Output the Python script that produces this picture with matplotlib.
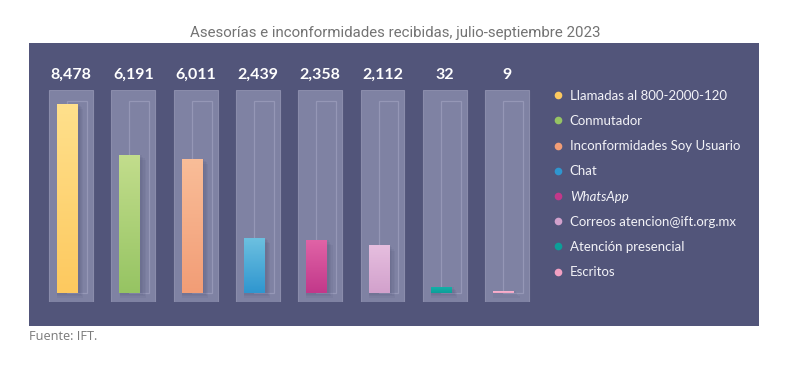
import numpy as np
import matplotlib.pyplot as plt
from matplotlib.colors import LinearSegmentedColormap, to_rgb
from matplotlib.lines import Line2D

categories = ['Llamadas al 800-2000-120', 'Conmutador', 'Inconformidades Soy Usuario',
              'Chat', 'WhatsApp', 'Correos atencion@ift.org.mx', 'Atención presencial', 'Escritos']
values = [8478, 6191, 6011, 2439, 2358, 2112, 32, 9]
value_labels = ['8,478', '6,191', '6,011', '2,439', '2,358', '2,112', '32', '9']
colors_top = ['#ffe08c', '#c2dd8c', '#f9bd98', '#6cc0e0', '#e063a6', '#e6bedf', '#14b0a8', '#f7b6d0']
colors_bot = ['#fdc95f', '#96c463', '#f29d76', '#2f96cf', '#c2388a', '#d2a1cc', '#0d9e98', '#f2a0c2']

panel = '#52557a'

fig = plt.figure(figsize=(7.95, 3.66), dpi=100)
fig.patch.set_facecolor('white')

# dark panel
bg = fig.add_axes([29/795, (366-326)/366, 730/795, 283/366])
bg.set_facecolor(panel)
bg.set_xticks([])
bg.set_yticks([])
for s in bg.spines.values():
    s.set_visible(False)

step = 62.3
ax = fig.add_axes([(71 - 0.5*step)/795, (366-302)/366, 8*step/795, 212/366])
ax.set_facecolor('none')
ymin, ymax = -404, 9107
ax.axis('off')

x = np.arange(len(values))
# small values are stretched a bit so they stay visible, like in the original
shown = [v if v > 500 else v * 8 for v in values]

# light boxes
ax.bar(x, ymax - ymin, bottom=ymin, width=0.706, color='#7f82a3',
       edgecolor='#8a8cab', linewidth=0.8, zorder=1)
# thin outlines
ax.bar(x + 0.096, 8613, bottom=0, width=0.32, color='none',
       edgecolor='#9597b6', linewidth=0.9, zorder=2)
# soft shadow
for k in range(4):
    ax.bar(x - 0.04 + 0.01*k, shown, bottom=-70*k, width=0.36 + 0.02*k,
           color='#4e5175', alpha=0.10, linewidth=0, zorder=2.5)
bars = ax.bar(x - 0.056, shown, width=0.337, color=colors_bot, zorder=3)

for b, ct, cb in zip(bars, colors_top, colors_bot):
    cmap = LinearSegmentedColormap.from_list('g', [to_rgb(cb), to_rgb(ct)])
    grad = np.linspace(0, 1, 100).reshape(-1, 1)
    h = b.get_height()
    ax.imshow(grad, cmap=cmap, aspect='auto', origin='lower',
              extent=(b.get_x(), b.get_x() + b.get_width(), 0, h), zorder=4)

ax.set_xlim(-0.5, 7.5)
ax.set_ylim(ymin, ymax)

for xi, lab in zip(x, value_labels):
    ax.text(xi, 9780, lab, ha='center', va='center', color='white',
            fontsize=11.5, fontweight='bold', family='Lato', clip_on=False)

handles = [Line2D([], [], marker='o', linestyle='none', markersize=5.5,
                  markerfacecolor=c, markeredgecolor='none') for c in colors_bot]
leg = fig.legend(handles, categories, loc='upper left',
                 bbox_to_anchor=(542/795, (366-78)/366), frameon=False,
                 prop={'family': 'Lato', 'size': 9.5}, labelcolor='#f2f2f7',
                 labelspacing=1.0, handlelength=0.6, handletextpad=0.6)
leg.get_texts()[4].set_style('italic')

fig.text(395/795, (366-33)/366, 'Asesorías e inconformidades recibidas, julio-septiembre 2023',
         ha='center', va='center', color='#737373', fontsize=10.8,
         family='Roboto')
fig.text(29/795, (366-337)/366, 'Fuente: IFT.', ha='left', va='center',
         color='#7a7a7a', fontsize=9.2, family='Open Sans')

fig.savefig('out.png', dpi=100, facecolor='white')
